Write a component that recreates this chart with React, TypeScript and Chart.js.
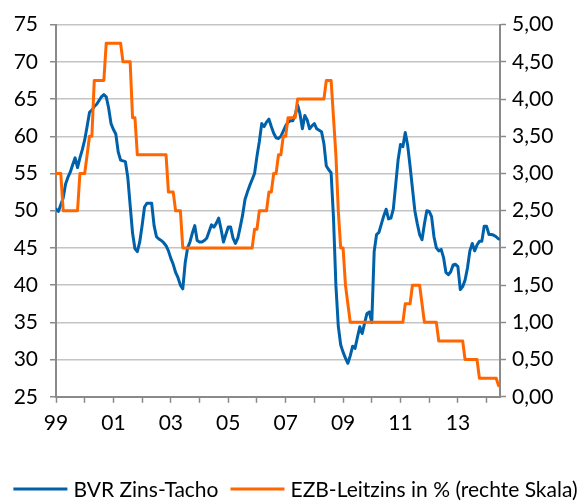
import React, { useEffect, useRef } from 'react';
import { Chart, registerables } from 'chart.js';

Chart.register(...registerables);

// ---------- data (monthly, Jan 1999 .. Jun 2014) ----------
const START_YEAR = 1999;
const SERIES_NAMES = ['BVR Zins-Tacho', 'EZB-Leitzins in % (rechte Skala)'];

const bvrZinsTacho = [
  50.2, 49.9, 50.8, 51.7, 53.6, 54.5, 55.2, 56.2, 57.1, 55.8, 57.1, 58.2, // 1999
  59.5, 61.3, 63.2, 63.5, 64.0, 64.3, 64.8, 65.3, 65.6, 65.3, 63.8, 61.7, // 2000
  60.9, 60.3, 57.9, 56.8, 56.7, 56.6, 54.5, 50.7, 47.0, 44.9, 44.5, 45.8, // 2001
  48.0, 50.5, 51.0, 51.0, 51.0, 48.0, 46.5, 46.2, 46.0, 45.7, 45.3, 44.6, // 2002
  43.6, 42.8, 41.7, 41.0, 40.0, 39.5, 43.0, 45.0, 45.8, 47.0, 48.0, 46.0, // 2003
  45.8, 45.8, 46.0, 46.3, 47.2, 48.1, 47.8, 48.3, 49.0, 47.5, 45.8, 46.8, // 2004
  47.8, 47.8, 46.3, 45.6, 46.3, 47.8, 49.4, 51.5, 52.5, 53.4, 54.2, 55.0, // 2005
  57.3, 59.3, 61.7, 61.3, 61.9, 62.3, 61.3, 60.4, 59.8, 59.7, 60.0, 60.7, // 2006
  61.4, 61.9, 62.1, 62.1, 62.9, 64.2, 63.0, 61.0, 62.8, 62.2, 61.0, 61.4, // 2007
  61.7, 61.0, 60.8, 60.6, 59.0, 56.0, 55.5, 55.1, 49.0, 40.0, 34.5, 32.0, // 2008
  31.0, 30.2, 29.5, 30.5, 31.8, 31.5, 33.0, 34.4, 33.5, 34.9, 36.2, 36.4, // 2009
  35.0, 44.5, 46.8, 47.1, 48.2, 49.3, 50.2, 48.9, 49.0, 50.2, 53.5, 56.8, // 2010
  58.9, 58.6, 60.5, 58.8, 56.0, 53.0, 50.0, 48.3, 46.8, 46.1, 48.2, 50.0, // 2011
  49.9, 49.2, 46.5, 45.0, 44.6, 44.8, 43.7, 41.7, 41.4, 41.8, 42.7, 42.8, // 2012
  42.5, 39.4, 39.8, 40.7, 42.3, 44.6, 45.6, 44.6, 45.4, 45.9, 45.9, 47.9, // 2013
  47.9, 46.8, 46.8, 46.7, 46.5, 46.2, // 2014
];

const ezbLeitzins = [
  3.0, 3.0, 3.0, 2.5, 2.5, 2.5, 2.5, 2.5, 2.5, 2.5, 3.0, 3.0, // 1999
  3.0, 3.25, 3.5, 3.5, 4.25, 4.25, 4.25, 4.25, 4.25, 4.75, 4.75, 4.75, // 2000
  4.75, 4.75, 4.75, 4.75, 4.5, 4.5, 4.5, 4.5, 3.75, 3.75, 3.25, 3.25, // 2001
  3.25, 3.25, 3.25, 3.25, 3.25, 3.25, 3.25, 3.25, 3.25, 3.25, 3.25, 2.75, // 2002
  2.75, 2.75, 2.5, 2.5, 2.5, 2.0, 2.0, 2.0, 2.0, 2.0, 2.0, 2.0, // 2003
  2.0, 2.0, 2.0, 2.0, 2.0, 2.0, 2.0, 2.0, 2.0, 2.0, 2.0, 2.0, // 2004
  2.0, 2.0, 2.0, 2.0, 2.0, 2.0, 2.0, 2.0, 2.0, 2.0, 2.0, 2.25, // 2005
  2.25, 2.5, 2.5, 2.5, 2.5, 2.75, 2.75, 3.0, 3.0, 3.25, 3.25, 3.5, // 2006
  3.5, 3.75, 3.75, 3.75, 3.75, 4.0, 4.0, 4.0, 4.0, 4.0, 4.0, 4.0, // 2007
  4.0, 4.0, 4.0, 4.0, 4.0, 4.25, 4.25, 4.25, 3.75, 3.25, 2.5, 2.0, // 2008
  2.0, 1.5, 1.25, 1.0, 1.0, 1.0, 1.0, 1.0, 1.0, 1.0, 1.0, 1.0, // 2009
  1.0, 1.0, 1.0, 1.0, 1.0, 1.0, 1.0, 1.0, 1.0, 1.0, 1.0, 1.0, // 2010
  1.0, 1.0, 1.25, 1.25, 1.25, 1.5, 1.5, 1.5, 1.5, 1.25, 1.0, 1.0, // 2011
  1.0, 1.0, 1.0, 1.0, 0.75, 0.75, 0.75, 0.75, 0.75, 0.75, 0.75, 0.75, // 2012
  0.75, 0.75, 0.75, 0.5, 0.5, 0.5, 0.5, 0.5, 0.5, 0.25, 0.25, 0.25, // 2013
  0.25, 0.25, 0.25, 0.25, 0.25, 0.15, // 2014
];

// x-axis labels (shown at the start of each labelled year)
const xLabelYears = [1999, 2001, 2003, 2005, 2007, 2009, 2011, 2013];
const xLabels = ['99', '01', '03', '05', '07', '09', '11', '13'];

const LEFT_MIN = 25;
const LEFT_MAX = 75;
const LEFT_STEP = 5;
const RIGHT_MIN = 0;
const RIGHT_MAX = 5;
const RIGHT_STEP = 0.5;

// ---------- styles ----------
const BLUE = '#0061AB';
const ORANGE = '#FF6600';
const AXIS_GRAY = '#8A8A8A';
const GRID_GRAY = '#C4C4C4';
const FONT_FAMILY = 'Lato, "Open Sans", sans-serif';
const FONT_SIZE = 21;
const W = 581;
const H = 501;

const toPoints = (vals: number[]) =>
  vals.map((v, i) => ({ x: START_YEAR + i / 12, y: v }));

const legendPlugin = {
  id: 'bottomLegend',
  afterDraw(chart: any) {
    const ctx = chart.ctx as CanvasRenderingContext2D;
    ctx.save();
    ctx.font = `${FONT_SIZE}px ${FONT_FAMILY}`;
    const colors = [BLUE, ORANGE];
    const sample = 54;
    const gap = 6;
    const itemGap = 12;
    const widths = SERIES_NAMES.map((t) => sample + gap + ctx.measureText(t).width);
    const total = widths.reduce((a, b) => a + b, 0) + itemGap * (widths.length - 1);
    let x = (chart.width - total) / 2 + 5;
    const baseline = 497;
    SERIES_NAMES.forEach((t, i) => {
      ctx.strokeStyle = colors[i];
      ctx.lineWidth = 3;
      ctx.lineCap = 'butt';
      ctx.beginPath();
      ctx.moveTo(x, baseline - 8);
      ctx.lineTo(x + sample, baseline - 8);
      ctx.stroke();
      ctx.fillStyle = '#000';
      ctx.textAlign = 'left';
      ctx.textBaseline = 'alphabetic';
      ctx.fillText(t, x + sample + gap, baseline);
      x += widths[i] + itemGap;
    });
    ctx.restore();
  },
};

export default function App() {
  const canvasRef = useRef<HTMLCanvasElement | null>(null);

  useEffect(() => {
    const canvas = canvasRef.current;
    if (!canvas) return;
    const font = { family: FONT_FAMILY, size: FONT_SIZE };
    const lastIndex = bvrZinsTacho.length - 1;
    const chart = new Chart(canvas, {
      type: 'line',
      data: {
        datasets: [
          {
            label: SERIES_NAMES[0],
            data: toPoints(bvrZinsTacho),
            borderColor: BLUE,
            backgroundColor: BLUE,
            borderWidth: 3,
            pointRadius: 0,
            tension: 0,
            borderJoinStyle: 'round',
            borderCapStyle: 'round',
            yAxisID: 'y',
            order: 2,
          },
          {
            label: SERIES_NAMES[1],
            data: toPoints(ezbLeitzins),
            borderColor: ORANGE,
            backgroundColor: ORANGE,
            borderWidth: 3,
            pointRadius: 0,
            tension: 0,
            borderJoinStyle: 'round',
            borderCapStyle: 'round',
            yAxisID: 'y1',
            order: 1,
          },
        ],
      },
      options: {
        animation: false,
        responsive: false,
        events: [],
        layout: { padding: { top: 22, bottom: 57, left: 0, right: 0 } },
        plugins: {
          legend: { display: false },
          tooltip: { enabled: false },
        },
        scales: {
          x: {
            type: 'linear',
            min: START_YEAR,
            max: START_YEAR + (lastIndex + 0.6) / 12,
            ticks: {
              stepSize: 1,
              autoSkip: false,
              maxRotation: 0,
              includeBounds: false,
              padding: 8,
              color: '#000',
              font,
              callback: (v: any) => {
                const idx = xLabelYears.indexOf(Math.round(Number(v)));
                return idx >= 0 ? xLabels[idx] : '';
              },
            },
            grid: {
              drawOnChartArea: false,
              drawTicks: true,
              tickLength: 6,
              tickColor: AXIS_GRAY,
              tickWidth: 1.5,
            },
            border: { display: true, color: AXIS_GRAY, width: 2 },
          },
          y: {
            position: 'left',
            min: LEFT_MIN,
            max: LEFT_MAX,
            ticks: { stepSize: LEFT_STEP, padding: 12, color: '#000', font },
            grid: {
              color: GRID_GRAY,
              lineWidth: 1.5,
              tickLength: 6,
              tickColor: AXIS_GRAY,
              tickWidth: 1.5,
            },
            border: { display: true, color: AXIS_GRAY, width: 2 },
            afterFit: (s: any) => {
              s.width = 56;
            },
          },
          y1: {
            position: 'right',
            min: RIGHT_MIN,
            max: RIGHT_MAX,
            ticks: {
              stepSize: RIGHT_STEP,
              padding: 6,
              color: '#000',
              font,
              callback: (v: any) => Number(v).toFixed(2).replace('.', ','),
            },
            grid: {
              drawOnChartArea: false,
              tickLength: 6,
              tickColor: AXIS_GRAY,
              tickWidth: 1.5,
            },
            border: { display: true, color: AXIS_GRAY, width: 2 },
            afterFit: (s: any) => {
              s.width = 81;
            },
          },
        },
      },
      plugins: [legendPlugin],
    } as any);
    return () => chart.destroy();
  }, []);

  return (
    <div style={{ position: 'absolute', left: 0, top: 0, width: W, height: H, background: '#fff' }}>
      <canvas ref={canvasRef} width={W} height={H} style={{ display: 'block', width: W, height: H }} />
    </div>
  );
}
